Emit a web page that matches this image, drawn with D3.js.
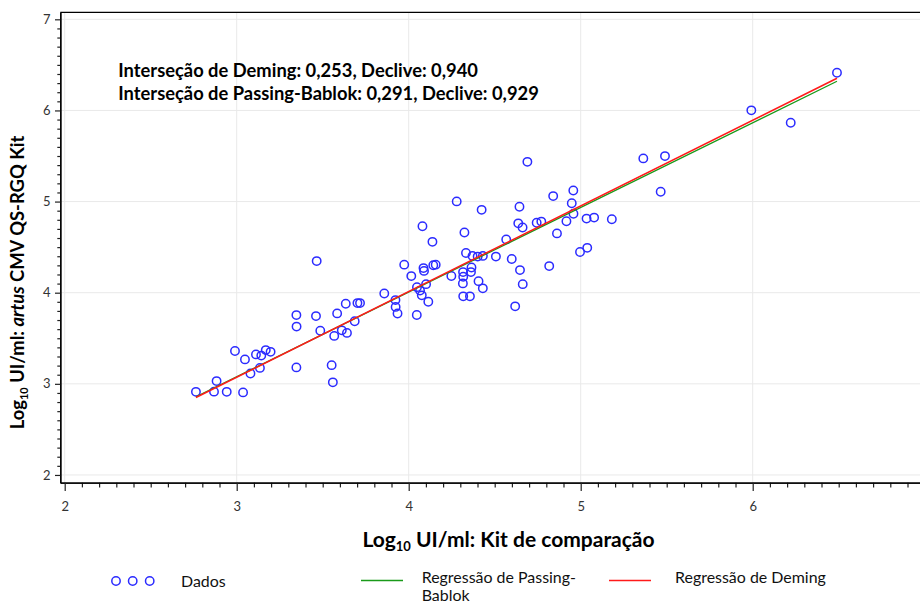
<!DOCTYPE html>
<html><head><meta charset="utf-8">
<script src="https://cdn.jsdelivr.net/npm/d3@7"></script>
<style>
body{margin:0;background:#fff;}
svg{display:block;font-family:Lato,"DejaVu Sans",sans-serif;}
</style>
</head><body>
<svg id="chart" width="920" height="604"></svg>
<script>
// ---- data ----
const xValues = [2.763,2.868,2.883,2.942,3.037,2.990,3.048,3.080,3.112,3.135,3.143,3.169,3.197,
  3.347,3.348,3.347,3.461,3.465,3.486,3.552,3.559,3.567,3.584,3.611,3.641,3.634,3.686,3.702,3.717,
  3.858,3.923,3.924,3.935,3.974,4.015,4.047,4.048,4.066,4.076,4.080,4.086,4.089,4.101,4.114,4.138,
  4.143,4.157,4.248,4.279,4.316,4.317,4.315,4.317,4.324,4.333,4.356,4.365,4.362,4.371,4.401,4.431,
  4.406,4.424,4.431,4.507,4.567,4.599,4.619,4.637,4.644,4.647,4.662,4.663,4.690,4.744,4.771,4.817,
  4.840,4.862,4.917,4.948,4.957,4.958,4.996,5.038,5.034,5.078,5.181,5.364,5.490,5.465,5.992,6.221,6.490];
const yValues = [2.912,2.914,3.030,2.912,2.906,3.361,3.268,3.114,3.323,3.175,3.310,3.370,3.351,
  3.754,3.628,3.180,3.743,4.347,3.582,3.205,3.016,3.526,3.773,3.587,3.559,3.878,3.686,3.886,3.886,
  3.992,3.919,3.844,3.771,4.308,4.182,3.756,4.061,4.023,3.971,4.729,4.270,4.239,4.094,3.900,4.558,
  4.301,4.308,4.184,5.002,4.226,4.175,4.102,3.960,4.661,4.435,3.960,4.276,4.226,4.404,4.396,4.404,
  4.127,4.909,4.048,4.396,4.585,4.369,3.850,4.761,4.943,4.248,4.715,4.094,5.436,4.767,4.780,4.292,
  5.060,4.651,4.784,4.981,5.121,4.866,4.446,4.492,4.813,4.824,4.806,5.474,5.499,5.108,6.001,5.865,6.414];
const regressionNames = ["Passing-Bablok", "Deming"];
const intercepts = [0.291, 0.253];
const slopes = [0.929, 0.940];
const majorTicks = [2, 3, 4, 5, 6, 7];
const xAxisTitle = "Kit de comparação";
const yAxisTitle = "CMV QS-RGQ Kit";
const legendLabels = ["Dados", "Regressão de Passing-", "Bablok", "Regressão de Deming"];

(function draw() {
const W = 920, H = 604;
const pLeft = 60.3, pTop = 12.3, pBottom = 482.7;
const svg = d3.select("#chart");
const x = d3.scaleLinear().domain([1.9744, 7.0]).range([pLeft, pLeft + 5.0256 * 172]);
const y = d3.scaleLinear().domain([1.915, 7.077]).range([pBottom, pTop]);

const minor = d3.range(21, 70).map(d => d / 10).filter(d => Math.abs(d - Math.round(d)) > 1e-6);
const xMajor = majorTicks.filter(t => x(t) < W - 6);

// grid
const grid = svg.append("g");
grid.selectAll("line.gx").data(xMajor).join("line")
  .attr("x1", d => x(d)).attr("x2", d => x(d)).attr("y1", pTop).attr("y2", pBottom)
  .attr("stroke", "#e9e9e9").attr("stroke-width", 1);
grid.selectAll("line.gy").data(majorTicks).join("line")
  .attr("x1", pLeft).attr("x2", W).attr("y1", d => y(d)).attr("y2", d => y(d))
  .attr("stroke", "#e9e9e9").attr("stroke-width", 1);

// axes
const fmt = d3.format("d");
const gxMinor = svg.append("g").attr("transform", `translate(0,${pBottom})`)
  .call(d3.axisBottom(x).tickValues(minor).tickSize(4.7).tickSizeOuter(0).tickFormat(""));
const gx = svg.append("g").attr("transform", `translate(0,${pBottom})`)
  .call(d3.axisBottom(x).tickValues(xMajor).tickSize(8.3).tickPadding(10.5).tickSizeOuter(0).tickFormat(fmt));
const gyMinor = svg.append("g").attr("transform", `translate(${pLeft},0)`)
  .call(d3.axisLeft(y).tickValues(minor).tickSize(3).tickSizeOuter(0).tickFormat(""));
const gy = svg.append("g").attr("transform", `translate(${pLeft},0)`)
  .call(d3.axisLeft(y).tickValues(majorTicks).tickSize(5.3).tickPadding(4.5).tickSizeOuter(0).tickFormat(fmt));
[gxMinor, gx, gyMinor, gy].forEach(g => {
  g.selectAll("path.domain").attr("stroke", "#000").attr("stroke-width", 1.3);
  g.selectAll(".tick line").attr("stroke", "#222").attr("stroke-width", 1.2);
  g.selectAll(".tick text").attr("fill", "#333").style("font-size", "13px").style("font-family", "Lato, sans-serif");
});
svg.append("line").attr("x1", pLeft).attr("x2", W).attr("y1", pTop).attr("y2", pTop)
  .attr("stroke", "#000").attr("stroke-width", 1.3);

// data points
svg.append("g").selectAll("circle").data(xValues.map((v, i) => [v, yValues[i]])).join("circle")
  .attr("cx", d => x(d[0])).attr("cy", d => y(d[1])).attr("r", 4.2)
  .attr("fill", "none").attr("stroke", "#2b2bff").attr("stroke-width", 1.5);

// regression lines
const xExt = d3.extent(xValues);
const lineColors = ["#1a9a1a", "#ff1a1a"];
const lineWidths = [1.3, 1.5];
regressionNames.forEach((n, i) => {
  svg.append("line")
    .attr("x1", x(xExt[0])).attr("y1", y(intercepts[i] + slopes[i] * xExt[0]))
    .attr("x2", x(xExt[1])).attr("y2", y(intercepts[i] + slopes[i] * xExt[1]))
    .attr("stroke", lineColors[i]).attr("stroke-width", lineWidths[i]);
});

function fit(sel, target) {
  const fs = parseFloat(sel.style("font-size"));
  const w = sel.node().getComputedTextLength();
  sel.style("font-size", (fs * target / w) + "px");
}
const dec = v => v.toFixed(3).replace(".", ",");

// annotation
const a1 = svg.append("text").attr("x", 118.3).attr("y", 76.5)
  .style("font-size", "17px").style("font-weight", "bold").attr("fill", "#000")
  .text(`Interseção de ${regressionNames[1]}: ${dec(intercepts[1])}, Declive: ${dec(slopes[1])}`);
const a2 = svg.append("text").attr("x", 118.3).attr("y", 100)
  .style("font-size", "17px").style("font-weight", "bold").attr("fill", "#000")
  .text(`Interseção de ${regressionNames[0]}: ${dec(intercepts[0])}, Declive: ${dec(slopes[0])}`);
fit(a2, 421);
a1.style("font-size", a2.style("font-size"));

// x axis title
const xt = svg.append("text").attr("x", 508.5).attr("y", 547).attr("text-anchor", "middle")
  .style("font-size", "20px").style("font-weight", "bold").attr("fill", "#000");
xt.append("tspan").text("Log");
xt.append("tspan").attr("dy", 4).style("font-size", "13px").text("10");
xt.append("tspan").attr("dy", -4).text(" UI/ml: " + xAxisTitle);
fit(xt, 293);

// y axis title
const yt = svg.append("text").attr("transform", "translate(24,282.5) rotate(-90)").attr("text-anchor", "middle")
  .style("font-size", "17px").style("font-weight", "bold").attr("fill", "#000");
yt.append("tspan").text("Log");
yt.append("tspan").attr("dy", 3.5).style("font-size", "11px").text("10");
yt.append("tspan").attr("dy", -3.5).text(" UI/ml: ");
yt.append("tspan").style("font-style", "italic").text("artus");
yt.append("tspan").text(" " + yAxisTitle);
fit(yt, 295);

// legend
const lg = svg.append("g").style("font-size", "15px").attr("fill", "#111");
lg.selectAll("circle").data([116, 132.7, 149.7]).join("circle")
  .attr("cx", d => d).attr("cy", 581).attr("r", 4.2)
  .attr("fill", "none").attr("stroke", "#2b2bff").attr("stroke-width", 1.5);
const t0 = lg.append("text").attr("x", 181).attr("y", 586.5).text(legendLabels[0]);
lg.append("line").attr("x1", 361).attr("x2", 403).attr("y1", 580.5).attr("y2", 580.5)
  .attr("stroke", lineColors[0]).attr("stroke-width", 1.5);
const t1 = lg.append("text").attr("x", 421.7).attr("y", 583).text(legendLabels[1]);
const t2 = lg.append("text").attr("x", 421.7).attr("y", 600.5).text(legendLabels[2]);
lg.append("line").attr("x1", 609).attr("x2", 651).attr("y1", 580.5).attr("y2", 580.5)
  .attr("stroke", lineColors[1]).attr("stroke-width", 1.5);
const t3 = lg.append("text").attr("x", 675).attr("y", 583).text(legendLabels[3]);
fit(t3, 151);
[t0, t1, t2].forEach(t => t.style("font-size", t3.style("font-size")));
})();
</script>
</body></html>
